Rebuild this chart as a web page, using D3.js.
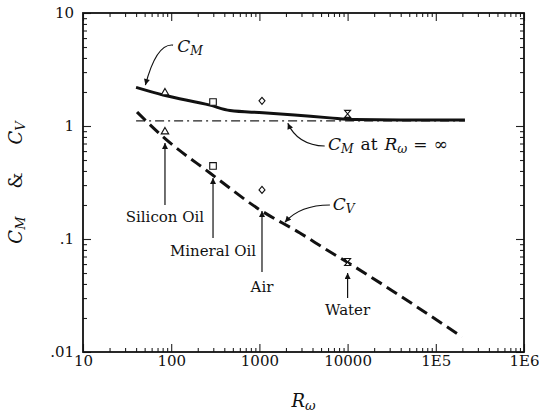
<!DOCTYPE html>
<html>
<head>
<meta charset="utf-8">
<script src="https://cdn.jsdelivr.net/npm/d3@7"></script>
<style>
  body { margin: 0; background: #fff; }
  .math { font-style: italic; }
</style>
</head>
<body>
<div id="chart"></div>
<script>
// ---- data ----
const cmX = [40, 81, 275, 464, 1100, 2500, 6300, 12000, 40000, 214000];
const cmY = [2.20, 1.88, 1.53, 1.37, 1.31, 1.25, 1.18, 1.14, 1.13, 1.13];

const cvX = [41, 81, 275, 1016, 2880, 5840, 9840, 198000];
const cvY = [1.33, 0.80, 0.384, 0.181, 0.113, 0.080, 0.0625, 0.0136];

const cmInfX = [40, 214000];
const cmInfY = [1.11, 1.11];

// measured points: fluid, R_w, C_M, C_V
const fluids = ['Silicon Oil', 'Mineral Oil', 'Air', 'Water'];
const fluidRw = [85, 298, 1070, 10000];
const fluidCM = [1.97, 1.63, 1.67, 1.28];
const fluidCV = [0.89, 0.443, 0.272, 0.0625];
const fluidShape = ['triangle', 'square', 'diamond', 'hourglass'];

// label arrows under the C_V points (arrow tip, arrow tail, text baseline)
const fluidTipY = [0.708, 0.347, 0.177, 0.050];
const fluidTailY = [0.20, 0.102, 0.051, 0.030];
const fluidTextY = [0.141, 0.0708, 0.034, 0.0212];

const xTicks = [10, 100, 1000, 10000, 1e5, 1e6];
const xTickLabels = ['10', '100', '1000', '10000', '1E5', '1E6'];
const yTicks = [0.01, 0.1, 1, 10];
const yTickLabels = ['.01', '.1', '1', '10'];

// ---- layout ----
const width = 539, height = 413;
const margin = { top: 13, right: 15, bottom: 61, left: 83 };
const iw = width - margin.left - margin.right;
const ih = height - margin.top - margin.bottom;
const serif = "'DejaVu Serif', 'Liberation Serif', serif";

const svg = d3.select('#chart').append('svg')
  .attr('width', width)
  .attr('height', height)
  .style('font-family', serif);

svg.append('defs').append('marker')
  .attr('id', 'head')
  .attr('viewBox', '0 0 10 10')
  .attr('refX', 10).attr('refY', 5)
  .attr('markerWidth', 9).attr('markerHeight', 6)
  .attr('markerUnits', 'userSpaceOnUse')
  .attr('orient', 'auto')
  .append('path')
  .attr('d', 'M0,0 L10,5 L0,10 Z')
  .attr('fill', '#111');

const g = svg.append('g').attr('transform', `translate(${margin.left},${margin.top})`);

const x = d3.scaleLog().domain([10, 1e6]).range([0, iw]);
const y = d3.scaleLog().domain([0.01, 10]).range([ih, 0]);

const xMinor = x.ticks().filter(v => !xTicks.includes(v));
const yMinor = y.ticks().filter(v => !yTicks.includes(v));

// ---- axes: ticks point inward on all four sides ----
function axisPair(axisFn, scale, major, minor, labels, transform, pad) {
  const minorAxis = axisFn(scale).tickValues(minor).tickSize(-4).tickFormat('');
  const majorAxis = axisFn(scale).tickValues(major).tickSize(-8).tickPadding(pad)
    .tickFormat(labels ? (d, i) => labels[i] : '');
  [minorAxis, majorAxis].forEach(ax => {
    const a = g.append('g').attr('transform', transform).call(ax)
      .attr('font-family', null);
    a.select('.domain').remove();
    a.selectAll('line').attr('stroke', '#222').attr('stroke-width', 1.1);
    a.selectAll('text')
      .attr('fill', '#111')
      .style('font-family', serif)
      .style('font-size', '15px');
  });
}
axisPair(d3.axisBottom, x, xTicks, xMinor, xTickLabels, `translate(0,${ih})`, 3);
axisPair(d3.axisTop, x, xTicks, xMinor, null, 'translate(0,0)', 3);
axisPair(d3.axisLeft, y, yTicks, yMinor, yTickLabels, 'translate(0,0)', 9);
axisPair(d3.axisRight, y, yTicks, yMinor, null, `translate(${iw},0)`, 3);

g.append('rect')
  .attr('width', iw).attr('height', ih)
  .attr('fill', 'none')
  .attr('stroke', '#111')
  .attr('stroke-width', 1.8);

// ---- curves ----
const line = d3.line()
  .x(d => x(d[0]))
  .y(d => y(d[1]))
  .curve(d3.curveMonotoneX);

g.append('path')
  .datum(d3.zip(cmInfX, cmInfY))
  .attr('d', line)
  .attr('fill', 'none')
  .attr('stroke', '#222')
  .attr('stroke-width', 1.2)
  .attr('stroke-dasharray', '9,4,2,4');

g.append('path')
  .datum(d3.zip(cmX, cmY))
  .attr('d', line)
  .attr('fill', 'none')
  .attr('stroke', '#111')
  .attr('stroke-width', 3);

g.append('path')
  .datum(d3.zip(cvX, cvY))
  .attr('d', line)
  .attr('fill', 'none')
  .attr('stroke', '#111')
  .attr('stroke-width', 3)
  .attr('stroke-dasharray', '12,6');

// ---- measured points ----
const shapes = {
  triangle: d3.symbol(d3.symbolTriangle2, 40)(),
  square: d3.symbol(d3.symbolSquare2, 55)(),
  diamond: 'M0,-3.5 L3,0 L0,3.5 L-3,0 Z',
  hourglass: 'M-3,-3.5 L3,-3.5 L-3,3.5 L3,3.5 Z'
};

const pts = [];
fluids.forEach((f, i) => {
  pts.push({ rw: fluidRw[i], c: fluidCM[i], shape: fluidShape[i] });
  pts.push({ rw: fluidRw[i], c: fluidCV[i], shape: fluidShape[i] });
});

g.selectAll('path.pt')
  .data(pts)
  .join('path')
  .attr('class', 'pt')
  .attr('transform', d => `translate(${x(d.rw)},${y(d.c)})`)
  .attr('d', d => shapes[d.shape])
  .attr('fill', '#fff')
  .attr('stroke', '#111')
  .attr('stroke-width', 1.1);

// ---- fluid labels with arrows ----
fluids.forEach((f, i) => {
  g.append('line')
    .attr('x1', x(fluidRw[i])).attr('x2', x(fluidRw[i]))
    .attr('y1', y(fluidTailY[i])).attr('y2', y(fluidTipY[i]))
    .attr('stroke', '#111')
    .attr('stroke-width', 1.2)
    .attr('marker-end', 'url(#head)');
  g.append('text')
    .attr('x', x(fluidRw[i]))
    .attr('y', y(fluidTextY[i]))
    .attr('text-anchor', 'middle')
    .style('font-size', '15px')
    .attr('fill', '#111')
    .text(f);
});

// ---- curve labels with bent arrows ----
function bentArrow(from, ctrl, to) {
  const p = d3.path();
  p.moveTo(x(from[0]), y(from[1]));
  p.quadraticCurveTo(x(ctrl[0]), y(ctrl[1]), x(to[0]), y(to[1]));
  g.append('path')
    .attr('d', p.toString())
    .attr('fill', 'none')
    .attr('stroke', '#111')
    .attr('stroke-width', 1.2)
    .attr('marker-end', 'url(#head)');
}

function mathLabel(pos, parts, size) {
  const t = g.append('text')
    .attr('x', x(pos[0])).attr('y', y(pos[1]))
    .style('font-size', size + 'px')
    .attr('fill', '#111');
  parts.forEach(p => {
    const s = t.append('tspan').text(p.text);
    if (p.italic) s.attr('class', 'math');
    if (p.sub) s.attr('baseline-shift', '-25%').style('font-size', (size * 0.72) + 'px');
    if (p.dx) s.attr('dx', p.dx);
  });
}

bentArrow([105, 5.2], [68, 5.4], [51, 2.3]);
mathLabel([117, 4.5], [{ text: 'C', italic: true }, { text: 'M', italic: true, sub: true }], 17);

bentArrow([5500, 0.665], [2700, 0.68], [2100, 1.06]);
mathLabel([6000, 0.612], [
  { text: 'C', italic: true }, { text: 'M', italic: true, sub: true },
  { text: 'at', dx: 7 },
  { text: 'R', italic: true, dx: 7 }, { text: 'ω', italic: true, sub: true },
  { text: '=', dx: 6 }, { text: '∞', dx: 6 }
], 17);

bentArrow([6300, 0.2], [2900, 0.2], [1950, 0.141]);
mathLabel([6800, 0.18], [{ text: 'C', italic: true }, { text: 'V', italic: true, sub: true }], 17);

// ---- axis titles ----
const yt = svg.append('text')
  .attr('transform', `translate(22,${margin.top + ih / 2}) rotate(-90)`)
  .attr('text-anchor', 'middle')
  .style('font-size', '18px')
  .attr('fill', '#111');
yt.append('tspan').attr('class', 'math').text('C');
yt.append('tspan').attr('class', 'math').attr('baseline-shift', '-25%').style('font-size', '13px').text('M');
yt.append('tspan').attr('dx', 28).text('&');
yt.append('tspan').attr('class', 'math').attr('dx', 28).text('C');
yt.append('tspan').attr('class', 'math').attr('baseline-shift', '-25%').style('font-size', '13px').text('V');

const xt = svg.append('text')
  .attr('x', margin.left + iw / 2)
  .attr('y', 407)
  .attr('text-anchor', 'middle')
  .style('font-size', '18px')
  .attr('fill', '#111');
xt.append('tspan').attr('class', 'math').text('R');
xt.append('tspan').attr('class', 'math').attr('baseline-shift', '-25%').style('font-size', '13px').text('ω');
</script>
</body>
</html>
